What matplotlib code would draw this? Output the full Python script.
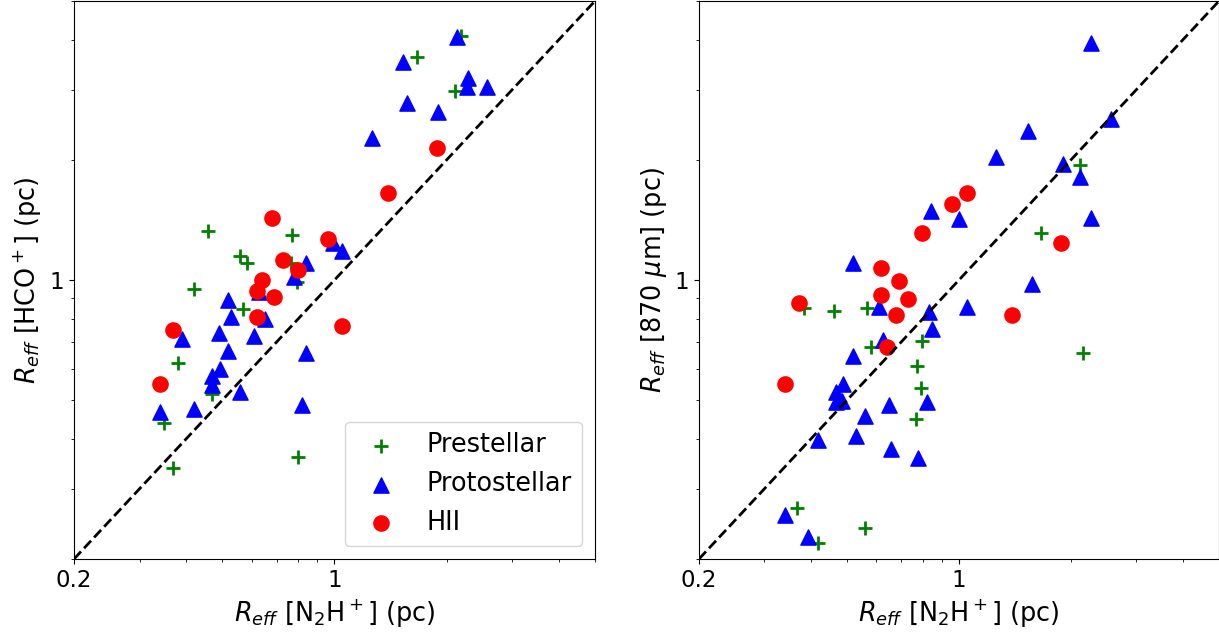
import numpy as np
import matplotlib
matplotlib.use('Agg')
import matplotlib.pyplot as plt
from matplotlib.ticker import NullFormatter

# --- Left panel: R_eff [HCO+] vs R_eff [N2H+] ---
pre_n2h_l = [0.458, 0.77, 0.558, 0.582, 0.42, 0.568, 0.38, 0.469, 0.349, 0.369, 0.798, 0.793, 0.764, 1.665, 2.18, 2.11]
pre_hco = [1.33, 1.30, 1.15, 1.10, 0.95, 0.846, 0.62, 0.518, 0.438, 0.338, 0.36, 0.99, 1.10, 3.63, 4.09, 2.98]

proto_n2h_l = [2.13, 1.53, 2.28, 2.27, 2.57, 1.565, 1.895, 1.26, 0.99, 1.05, 0.84, 0.78, 0.627, 0.518,
               0.528, 0.65, 0.39, 0.49, 0.608, 0.518, 0.84, 0.493, 0.469, 0.469, 0.558, 0.818, 0.34, 0.42]
proto_hco = [4.07, 3.52, 3.21, 3.05, 3.05, 2.78, 2.64, 2.27, 1.24, 1.18, 1.10, 1.02, 0.934, 0.89,
             0.81, 0.80, 0.71, 0.737, 0.724, 0.664, 0.657, 0.60, 0.575, 0.546, 0.524, 0.486, 0.467, 0.475]

hii_n2h_l = [1.88, 1.39, 0.68, 0.96, 0.728, 0.798, 0.639, 0.619, 0.688, 0.619, 0.369, 1.05, 0.34]
hii_hco = [2.14, 1.65, 1.43, 1.27, 1.12, 1.06, 1.0, 0.94, 0.907, 0.81, 0.75, 0.767, 0.549]

# --- Right panel: R_eff [870 um] vs R_eff [N2H+] ---
pre_n2h_r = [0.382, 0.46, 0.567, 0.581, 0.796, 0.772, 0.791, 0.767, 0.368, 0.56, 0.419, 2.16, 2.12, 1.66]
pre_870 = [0.851, 0.837, 0.851, 0.68, 0.704, 0.609, 0.537, 0.449, 0.268, 0.239, 0.219, 0.657, 1.94, 1.31]

proto_n2h_r = [2.27, 2.57, 1.53, 1.256, 1.90, 2.12, 0.841, 1.0, 2.27, 1.57, 0.52, 0.61, 0.83, 1.05, 0.847,
               0.626, 0.52, 0.489, 0.468, 0.486, 0.468, 0.56, 0.649, 0.821, 0.419, 0.53, 0.658, 0.777, 0.34, 0.392]
proto_870 = [3.93, 2.53, 2.36, 2.03, 1.95, 1.81, 1.49, 1.42, 1.43, 0.98, 1.10, 0.856, 0.83, 0.856, 0.754,
             0.708, 0.645, 0.549, 0.524, 0.498, 0.495, 0.457, 0.486, 0.495, 0.397, 0.407, 0.377, 0.358, 0.258, 0.227]

hii_n2h_r = [1.05, 0.958, 0.796, 1.876, 0.618, 0.69, 0.618, 0.73, 0.678, 0.371, 0.642, 1.39, 0.34]
hii_870 = [1.65, 1.55, 1.31, 1.24, 1.07, 0.995, 0.917, 0.897, 0.818, 0.876, 0.68, 0.818, 0.549]

lims = [0.2, 5]

fig = plt.figure(figsize=(12.19, 6.35), dpi=100)
ax1 = fig.add_axes([0.0607, 0.1197, 0.4274, 0.8787])
ax2 = fig.add_axes([0.5734, 0.1197, 0.4266, 0.8787])

panels = [
    (ax1, pre_n2h_l, pre_hco, proto_n2h_l, proto_hco, hii_n2h_l, hii_hco,
     r'$R_{eff}$ [HCO$^+$] (pc)', True),
    (ax2, pre_n2h_r, pre_870, proto_n2h_r, proto_870, hii_n2h_r, hii_870,
     r'$R_{eff}$ [870 $\mu$m] (pc)', False),
]

for ax, px, py, tx, ty, hx, hy, ylab, show_legend in panels:
    ax.scatter(px, py, marker='+', color='green', s=110, linewidths=2, label='Prestellar')
    ax.scatter(tx, ty, marker='^', color='blue', s=120, label='Protostellar')
    ax.scatter(hx, hy, marker='o', color='red', s=120, label='HII')
    ax.plot(lims, lims, 'k--', lw=2)
    ax.set_xscale('log')
    ax.set_yscale('log')
    ax.set_xlim(lims)
    ax.set_ylim(lims)
    ax.set_xticks([0.2, 1])
    ax.set_xticklabels(['0.2', '1'])
    ax.set_yticks([1])
    ax.set_yticklabels(['1'])
    ax.xaxis.set_minor_formatter(NullFormatter())
    ax.yaxis.set_minor_formatter(NullFormatter())
    ax.tick_params(labelsize=16.5)
    ax.set_xlabel(r'$R_{eff}$ [N$_2$H$^+$] (pc)', fontsize=18.4)
    ax.set_ylabel(ylab, fontsize=18.4)
    if show_legend:
        ax.legend(loc='lower right', fontsize=18.4)

fig.savefig('out.png', dpi=100)
